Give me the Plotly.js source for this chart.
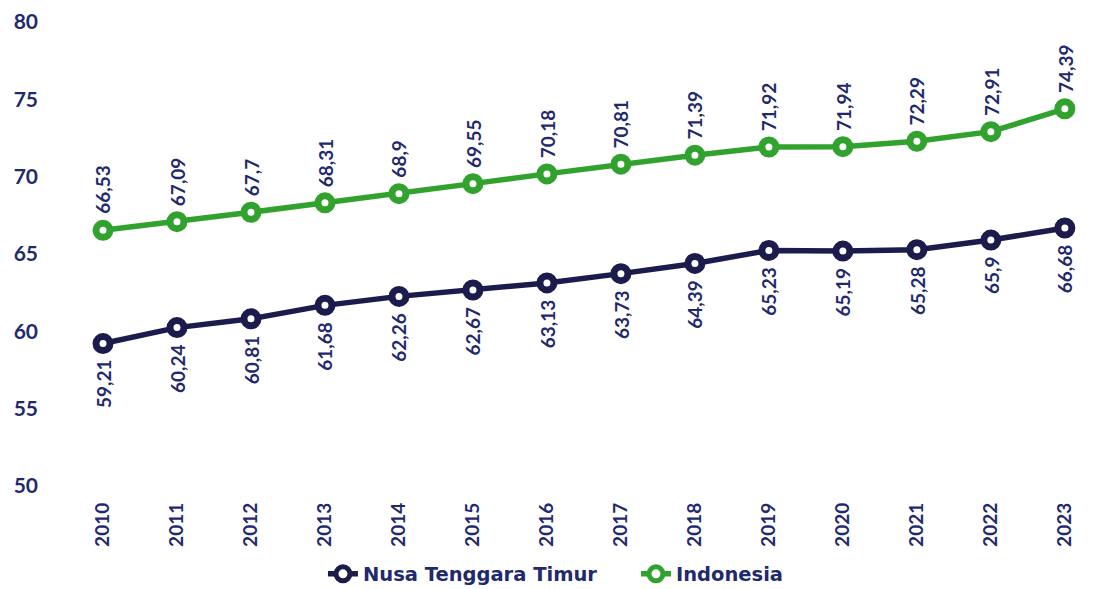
<!DOCTYPE html>
<html><head><meta charset="utf-8">
<script src="https://cdn.plot.ly/plotly-3.0.1.min.js"></script>
<style>html,body{margin:0;padding:0;background:#fff}#chart{width:1110px;height:589px}</style>
</head><body><div id="chart"></div>
<script>
const years = [2010,2011,2012,2013,2014,2015,2016,2017,2018,2019,2020,2021,2022,2023];
const ntt = [59.21,60.24,60.81,61.68,62.26,62.67,63.13,63.73,64.39,65.23,65.19,65.28,65.9,66.68];
const indo = [66.53,67.09,67.7,68.31,68.9,69.55,70.18,70.81,71.39,71.92,71.94,72.29,72.91,74.39];
const yTicks = [50,55,60,65,70,75,80];
const seriesNames = ['Nusa Tenggara Timur','Indonesia'];

const navy = '#1b1c4c';
const green = '#31a22e';
const labelColor = '#1f2a6e';
const fontFam = 'Lato, "Open Sans", sans-serif';

function fmt(v){ return String(v).replace('.', ','); }

const traces = [
  {x: years, y: ntt, name: seriesNames[0], mode: 'lines+markers', type: 'scatter',
   line: {color: navy, width: 5.5},
   marker: {symbol: 'circle', size: 14, color: '#ffffff', line: {color: navy, width: 7}}},
  {x: years, y: indo, name: seriesNames[1], mode: 'lines+markers', type: 'scatter',
   line: {color: green, width: 5.5},
   marker: {symbol: 'circle', size: 14, color: '#ffffff', line: {color: green, width: 7}}}
];

const annotations = [];
years.forEach((yr, i) => {
  annotations.push({x: yr, y: ntt[i], xref: 'x', yref: 'y', text: fmt(ntt[i]), textangle: -90,
    showarrow: false, yanchor: 'top', yshift: -15, borderpad: 0,
    font: {family: fontFam, size: 19, color: labelColor, weight: 700}});
  annotations.push({x: yr, y: indo[i], xref: 'x', yref: 'y', text: fmt(indo[i]), textangle: -90,
    showarrow: false, yanchor: 'bottom', yshift: 15, borderpad: 0,
    font: {family: fontFam, size: 19, color: labelColor, weight: 700}});
});

const layout = {
  width: 1110, height: 589,
  margin: {l: 45, r: 20, t: 22, b: 103, autoexpand: false},
  paper_bgcolor: '#ffffff', plot_bgcolor: '#ffffff',
  showlegend: true,
  legend: {orientation: 'h', x: 0.266, xanchor: 'left', y: -0.148, yanchor: 'top',
    font: {family: '"DejaVu Sans", sans-serif', size: 19.5, color: labelColor, weight: 700},
    itemwidth: 30, tracegroupgap: 0, entrywidth: 268, entrywidthmode: 'pixels'},
  xaxis: {range: [2009.216, 2023.34], tickvals: years, ticktext: years.map(String), tickangle: -90,
    showgrid: false, zeroline: false, showline: false, ticks: '', ticklabelstandoff: 12,
    tickfont: {family: fontFam, size: 19, color: labelColor, weight: 700}, fixedrange: true},
  yaxis: {range: [50, 80], tickvals: yTicks, ticktext: yTicks.map(String),
    showgrid: false, zeroline: false, showline: false, ticks: '', ticklabelstandoff: 6,
    tickfont: {family: fontFam, size: 21, color: labelColor, weight: 700}, fixedrange: true},
  annotations: annotations
};

Plotly.newPlot('chart', traces, layout, {displayModeBar: false, staticPlot: true});
</script></body></html>
